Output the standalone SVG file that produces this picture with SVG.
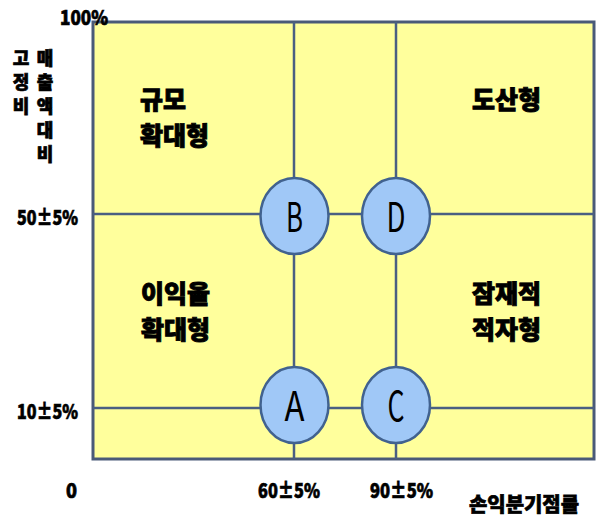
<svg xmlns="http://www.w3.org/2000/svg" width="598" height="518" viewBox="0 0 598 518">
<style>
.lbl{font-family:"Noto Sans CJK KR","Liberation Sans",sans-serif;font-weight:900;fill:#000;stroke:#000;stroke-width:0.7}
.ax{font-size:20px}
.q{font-size:25px;stroke-width:0.9}
.v{font-size:18px;text-anchor:middle}
.ln{stroke:#4a5f82;stroke-width:2.5;fill:none}
.node ellipse{fill:#a0c8f7;stroke:#41628f;stroke-width:2.5}
.node text{font-family:"Noto Sans CJK KR","Liberation Sans",sans-serif;font-size:41px;text-anchor:middle;fill:#000}
</style>
<rect width="598" height="518" fill="#fff"/>
<rect x="93" y="22" width="501" height="437" fill="#ffff9c" stroke="#4a5a78" stroke-width="3"/>
<g id="connectors">
<line class="ln" x1="294" y1="22" x2="294" y2="459"/>
<line class="ln" x1="396" y1="22" x2="396" y2="459"/>
<line class="ln" x1="93" y1="214" x2="594" y2="214"/>
<line class="ln" x1="93" y1="408" x2="594" y2="408"/>
</g>
<g id="B" class="node"><ellipse cx="294.5" cy="216" rx="34" ry="38"/><text x="294.5" y="232" textLength="17" lengthAdjust="spacingAndGlyphs">B</text></g>
<g id="D" class="node"><ellipse cx="396" cy="216" rx="34" ry="38"/><text x="396" y="232" textLength="19" lengthAdjust="spacingAndGlyphs">D</text></g>
<g id="A" class="node"><ellipse cx="294.5" cy="405" rx="34" ry="38"/><text x="294.5" y="421" textLength="20" lengthAdjust="spacingAndGlyphs">A</text></g>
<g id="C" class="node"><ellipse cx="396" cy="405" rx="34" ry="38"/><text x="396" y="421" textLength="17" lengthAdjust="spacingAndGlyphs">C</text></g>
<g class="lbl">
<text class="ax" x="60" y="25" textLength="48" lengthAdjust="spacingAndGlyphs">100%</text>
<text class="ax" x="17" y="225" textLength="61" lengthAdjust="spacingAndGlyphs">50±5%</text>
<text class="ax" x="17" y="419" textLength="61" lengthAdjust="spacingAndGlyphs">10±5%</text>
<text class="ax" x="66" y="498" textLength="11" lengthAdjust="spacingAndGlyphs">0</text>
<text class="ax" x="258" y="498" textLength="62" lengthAdjust="spacingAndGlyphs">60±5%</text>
<text class="ax" x="370" y="498" textLength="63" lengthAdjust="spacingAndGlyphs">90±5%</text>
<text class="ax" x="469" y="512" textLength="110" lengthAdjust="spacingAndGlyphs">손익분기점률</text>
<text class="v" x="21" y="65">고</text>
<text class="v" x="21" y="89">정</text>
<text class="v" x="21" y="113">비</text>
<text class="v" x="45" y="65">매</text>
<text class="v" x="45" y="89">출</text>
<text class="v" x="45" y="113">액</text>
<text class="v" x="45" y="137">대</text>
<text class="v" x="45" y="161">비</text>
<text class="q" x="140" y="109">규모</text>
<text class="q" x="140" y="145">확대형</text>
<text class="q" x="472" y="109">도산형</text>
<text class="q" x="141" y="303">이익율</text>
<text class="q" x="141" y="339">확대형</text>
<text class="q" x="472" y="303">잠재적</text>
<text class="q" x="472" y="339">적자형</text>
</g>
</svg>
